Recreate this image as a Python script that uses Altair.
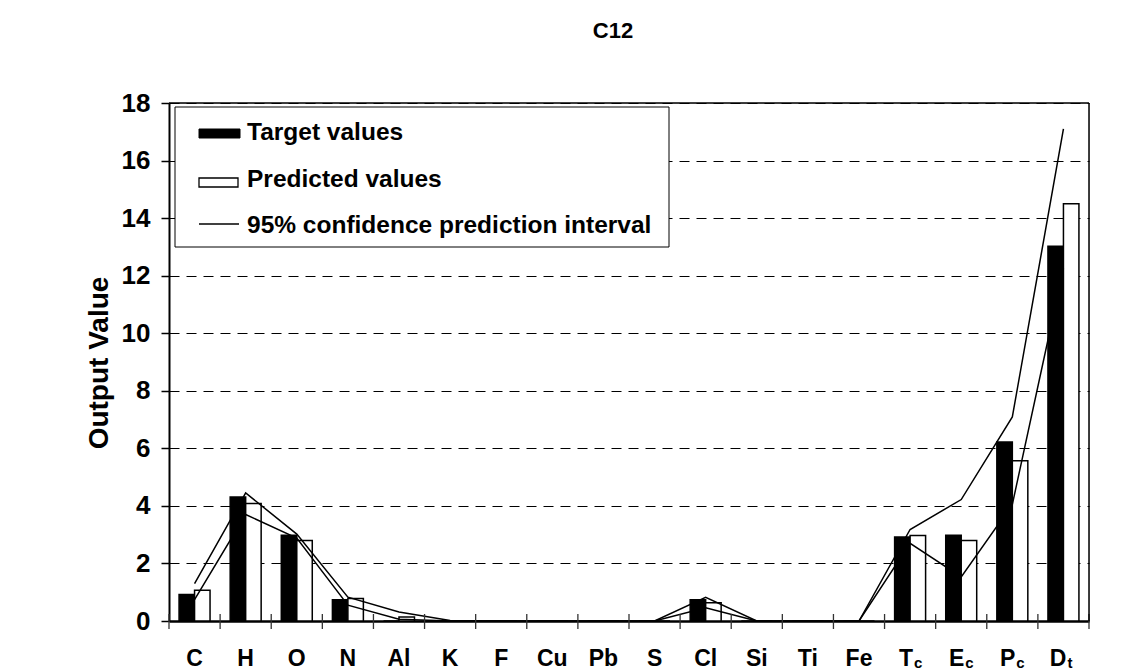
import altair as alt
import pandas as pd

# ---------------- data ----------------
categories = ["C", "H", "O", "N", "Al", "K", "F", "Cu", "Pb", "S", "Cl", "Si",
              "Ti", "Fe", "Tc", "Ec", "Pc", "Dt"]
label_main = ["C", "H", "O", "N", "Al", "K", "F", "Cu", "Pb", "S", "Cl", "Si",
              "Ti", "Fe", "T", "E", "P", "D"]
label_sub = ["", "", "", "", "", "", "", "", "", "", "", "",
             "", "", "c", "c", "c", "t"]
target_values = [0.92, 4.31, 2.98, 0.74, 0, 0, 0, 0, 0, 0, 0.74, 0,
                 0, 0, 2.92, 2.98, 6.22, 13.02]
predicted_values = [1.07, 4.08, 2.80, 0.78, 0.14, 0, 0, 0, 0, 0, 0.63, 0,
                    0, 0, 2.97, 2.80, 5.57, 14.50]
upper_bound = [1.30, 4.45, 3.02, 0.83, 0.31, 0.02, 0, 0, 0, 0, 0.82, 0,
               0, 0, 3.18, 4.22, 7.09, 17.10]
lower_bound = [0.74, 3.70, 2.88, 0.55, 0.06, 0, 0, 0, 0, 0, 0.46, 0,
               0, 0, 2.70, 1.53, 4.05, 12.25]
series_names = ["Target values", "Predicted values"]
legend_labels = ["Target values", "Predicted values", "95% confidence prediction interval"]
chart_title = "C12"
y_title = "Output Value"
y_ticks = [0, 2, 4, 6, 8, 10, 12, 14, 16, 18]

# ---------------- tables ----------------
n = len(categories)
bars = pd.DataFrame({
    "cat": categories * 2,
    "series": [series_names[0]] * n + [series_names[1]] * n,
    "value": target_values + predicted_values,
})
bounds = pd.DataFrame({
    "cat": categories * 2,
    "bound": ["upper"] * n + ["lower"] * n,
    "value": upper_bound + lower_bound,
})
labels = pd.DataFrame({"cat": categories, "main": label_main, "sub": label_sub})
one = pd.DataFrame({"k": [0]})

W, H = 920, 518
FONT = "Liberation Sans"

xscale = alt.Scale(domain=categories, paddingInner=0, paddingOuter=0)
yscale = alt.Scale(domain=[0, 18], nice=False)

X_AXIS = alt.Axis(labels=False, ticks=False, title=None, grid=False,
                  domain=True, domainColor="black", domainWidth=2.5)
Y_AXIS = alt.Axis(values=y_ticks, tickSize=8, tickColor="black", tickWidth=1.5,
                  labelFont=FONT, labelFontSize=26, labelFontWeight="bold",
                  labelColor="black", labelPadding=11,
                  grid=True, gridColor="black", gridDash=[10, 7], gridWidth=1,
                  domain=True, domainColor="black", domainWidth=2, title=None)


def xenc(**kw):
    return alt.X("cat:N", scale=xscale, sort=None, axis=X_AXIS, **kw)


def yenc():
    return alt.Y("value:Q", scale=yscale, axis=Y_AXIS)


bar_layer = alt.Chart(bars).mark_bar(stroke="black", strokeWidth=1.5).encode(
    x=xenc(),
    xOffset=alt.XOffset("series:N",
                        scale=alt.Scale(domain=series_names, paddingOuter=0.65, paddingInner=0)),
    y=yenc(),
    fill=alt.Fill("series:N", scale=alt.Scale(domain=series_names, range=["black", "white"]),
                  legend=None),
)

line_layer = alt.Chart(bounds).transform_window(
    idx="row_number()", groupby=["bound"]
).mark_line(color="black", strokeWidth=1.5).encode(
    x=xenc(), y=yenc(), detail="bound:N", order=alt.Order("idx:Q")
)

tick_layer = alt.Chart(labels).mark_rule(color="#333", strokeWidth=1.3).encode(
    x=xenc(bandPosition=0),
    y=alt.value(H - 7), y2=alt.value(H + 8),
)
tick_end = alt.Chart(one).mark_rule(color="#333", strokeWidth=1.3).encode(
    x=alt.value(W), y=alt.value(H - 7), y2=alt.value(H + 8))

# plot frame (top and right edges)
frame_top = alt.Chart(one).mark_rule(color="black", strokeWidth=1.5).encode(
    x=alt.value(0), x2=alt.value(W), y=alt.value(0))
frame_right = alt.Chart(one).mark_rule(color="black", strokeWidth=1.5).encode(
    x=alt.value(W), y=alt.value(0), y2=alt.value(H))

txt = dict(font=FONT, fontWeight="bold", color="black", baseline="alphabetic")
label_plain = alt.Chart(labels).transform_filter("datum.sub == ''").mark_text(
    fontSize=23, align="center", **txt).encode(x=xenc(), y=alt.value(H + 45), text="main:N")
label_main_l = alt.Chart(labels).transform_filter("datum.sub != ''").mark_text(
    fontSize=23, align="right", dx=3, **txt).encode(x=xenc(), y=alt.value(H + 45), text="main:N")
label_sub_l = alt.Chart(labels).transform_filter("datum.sub != ''").mark_text(
    fontSize=15, align="left", dx=4, **txt).encode(x=xenc(), y=alt.value(H + 47), text="sub:N")

title_layer = alt.Chart(one).mark_text(fontSize=22, align="center", **txt).encode(
    x=alt.value(444), y=alt.value(-65), text=alt.value(chart_title))
ytitle_layer = alt.Chart(one).mark_text(fontSize=28, align="center", angle=270, font=FONT,
                                        fontWeight="bold", color="black", baseline="middle").encode(
    x=alt.value(-69), y=alt.value(260), text=alt.value(y_title))

# legend box
leg_box = alt.Chart(one).mark_rect(fill="white", stroke="black", strokeWidth=1).encode(
    x=alt.value(6), x2=alt.value(500), y=alt.value(4), y2=alt.value(144))
leg_sw1 = alt.Chart(one).mark_rect(fill="black", stroke="black", strokeWidth=1).encode(
    x=alt.value(30), x2=alt.value(71), y=alt.value(26), y2=alt.value(35))
leg_sw2 = alt.Chart(one).mark_rect(fill="white", stroke="black", strokeWidth=1.3).encode(
    x=alt.value(30), x2=alt.value(69), y=alt.value(75), y2=alt.value(84))
leg_sw3 = alt.Chart(one).mark_rule(color="black", strokeWidth=1.5).encode(
    x=alt.value(30), x2=alt.value(70), y=alt.value(121))
leg_t = [
    alt.Chart(one).mark_text(fontSize=24.5, align="left", **txt).encode(
        x=alt.value(78), y=alt.value(yy), text=alt.value(lab))
    for lab, yy in zip(legend_labels, [37, 84, 130])
]

chart = alt.layer(
    bar_layer, line_layer, tick_layer, tick_end, frame_top, frame_right,
    label_plain, label_main_l, label_sub_l,
    title_layer, ytitle_layer,
    leg_box, leg_sw1, leg_sw2, leg_sw3, *leg_t,
).properties(
    width=W, height=H,
    autosize=alt.AutoSizeParams(type="none"),
    padding={"left": 161, "top": 95, "right": 41, "bottom": 50},
).configure_view(stroke="black", strokeWidth=2).configure(background="white")

chart.save("out.html", embed_options={"renderer": "svg", "actions": False})
